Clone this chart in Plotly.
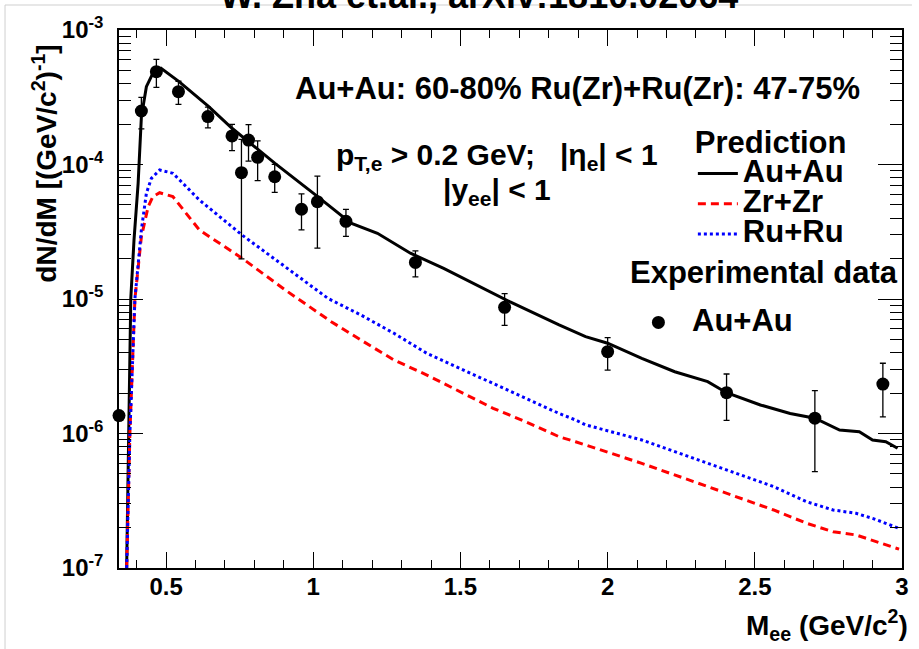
import plotly.graph_objects as go

# ---------------- data ----------------
# Measured Au+Au dielectron spectrum (60-80%)
mass_data = [0.340, 0.416, 0.467, 0.542, 0.642, 0.724, 0.756, 0.780, 0.811, 0.869,
             0.960, 1.014, 1.111, 1.347, 1.650, 2.000, 2.404, 2.704, 2.935]
dndm_data = [1.36e-6, 2.50e-4, 4.90e-4, 3.48e-4, 2.27e-4, 1.63e-4, 8.69e-5, 1.52e-4, 1.13e-4, 8.11e-5,
             4.65e-5, 5.29e-5, 3.78e-5, 1.87e-5, 8.67e-6, 4.06e-6, 2.01e-6, 1.30e-6, 2.33e-6]
dndm_err = [0.0, 6.6e-5, 1.15e-4, 6.8e-5, 4.0e-5, 3.6e-5, 6.7e-5, 4.6e-5, 3.7e-5, 1.9e-5,
            1.39e-5, 2.9e-5, 8.6e-6, 4.1e-6, 2.3e-6, 1.1e-6, 7.6e-7, 7.8e-7, 1.0e-6]

# Model prediction, Au+Au
mass_au = [0.366, 0.374, 0.380, 0.391, 0.405, 0.416, 0.433, 0.455, 0.483, 0.544,
           0.645, 0.724, 0.780, 0.870, 1.015, 1.128, 1.218, 1.330, 1.443, 1.555,
           1.667, 1.835, 1.925, 2.000, 2.116, 2.228, 2.340, 2.404, 2.519, 2.620,
           2.704, 2.788, 2.855, 2.900, 2.945, 2.985]
pred_au = [1.0e-7, 1.0e-6, 1.0e-5, 2.75e-5, 7.24e-5, 2.26e-4, 3.79e-4, 4.76e-4, 5.19e-4, 4.13e-4,
           2.69e-4, 1.86e-4, 1.48e-4, 1.02e-4, 5.77e-5, 3.66e-5, 3.08e-5, 2.19e-5, 1.69e-5, 1.27e-5,
           9.55e-6, 6.41e-6, 5.25e-6, 4.69e-6, 3.62e-6, 2.88e-6, 2.43e-6, 2.01e-6, 1.63e-6, 1.41e-6,
           1.30e-6, 1.06e-6, 1.03e-6, 8.95e-7, 8.69e-7, 7.76e-7]

# Model prediction, Zr+Zr
mass_zr = [0.366, 0.377, 0.394, 0.416, 0.439, 0.455, 0.478, 0.523, 0.613, 0.758,
           0.904, 1.061, 1.162, 1.274, 1.386, 1.498, 1.611, 1.723, 1.835, 1.891,
           2.116, 2.340, 2.564, 2.676, 2.766, 2.844, 2.900, 2.990]
pred_zr = [1.0e-7, 1.0e-6, 1.0e-5, 2.90e-5, 4.85e-5, 5.77e-5, 6.17e-5, 5.77e-5, 3.26e-5, 2.01e-5,
           1.17e-5, 6.78e-6, 4.95e-6, 3.52e-6, 2.72e-6, 2.05e-6, 1.54e-6, 1.22e-6, 9.46e-7, 8.69e-7,
           6.00e-7, 4.03e-7, 2.70e-7, 2.15e-7, 1.86e-7, 1.76e-7, 1.61e-7, 1.38e-7]

# Model prediction, Ru+Ru
mass_ru = [0.366, 0.377, 0.394, 0.411, 0.416, 0.433, 0.450, 0.478, 0.523, 0.613,
           0.758, 0.904, 1.050, 1.162, 1.274, 1.386, 1.498, 1.611, 1.723, 1.835,
           1.891, 1.925, 2.116, 2.340, 2.564, 2.676, 2.766, 2.844, 2.900, 2.990]
pred_ru = [1.0e-7, 1.0e-6, 1.0e-5, 2.75e-5, 3.26e-5, 6.11e-5, 7.89e-5, 9.10e-5, 8.61e-5, 5.45e-5,
           2.99e-5, 1.74e-5, 1.01e-5, 7.60e-6, 5.56e-6, 3.94e-6, 3.05e-6, 2.36e-6, 1.83e-6, 1.41e-6,
           1.26e-6, 1.16e-6, 8.95e-7, 6.00e-7, 4.03e-7, 3.11e-7, 2.70e-7, 2.55e-7, 2.34e-7, 1.97e-7]

x_tickvals = [0.5, 1, 1.5, 2, 2.5, 3]
x_ticktext = ["0.5", "1", "1.5", "2", "2.5", "3"]
y_tickvals = [1e-7, 1e-6, 1e-5, 1e-4, 1e-3]
y_ticktext = ["10<sup>-7</sup>", "10<sup>-6</sup>", "10<sup>-5</sup>", "10<sup>-4</sup>", "10<sup>-3</sup>"]

# ---------------- figure ----------------
FONT = "Liberation Sans, Arial, Helvetica, sans-serif"


def bold(size):
    return dict(family=FONT, size=size, color="black", weight="bold")


def big(label):
    return '<span style="font-size:31px">' + label + "</span>"


fig = go.Figure()

fig.add_trace(go.Scatter(
    x=mass_au, y=pred_au, mode="lines", name=big("Au+Au"), legend="legend",
    line=dict(color="black", width=3)))
fig.add_trace(go.Scatter(
    x=mass_zr, y=pred_zr, mode="lines", name=big("Zr+Zr"), legend="legend",
    line=dict(color="#ff0000", width=3, dash="8px,5px")))
fig.add_trace(go.Scatter(
    x=mass_ru, y=pred_ru, mode="lines", name=big("Ru+Ru"), legend="legend",
    line=dict(color="#0000ff", width=3, dash="3px,3px")))
fig.add_trace(go.Scatter(
    x=mass_data, y=dndm_data, mode="markers", name=big("\u00a0Au+Au"), legend="legend2",
    marker=dict(color="black", size=13),
    error_y=dict(type="data", array=dndm_err, color="black", thickness=1.3, width=3),
    cliponaxis=False))

axis_common = dict(
    showgrid=False, zeroline=False, showline=True, linecolor="black", linewidth=1.5,
    mirror="ticks", ticks="inside", tickcolor="black", tickwidth=1.3,
    tickfont=bold(24))

fig.update_xaxes(
    range=[0.34, 3.0], tickmode="array", tickvals=x_tickvals, ticktext=x_ticktext,
    ticklen=16, ticklabelstandoff=-4,
    minor=dict(ticks="inside", ticklen=8, dtick=0.1, tick0=0, tickcolor="black", tickwidth=1.3),
    **axis_common)

y_minor = [m * 10.0 ** e for e in range(-7, -3) for m in range(2, 10)]
fig.update_yaxes(
    type="log", range=[-7, -3], tickmode="array", tickvals=y_tickvals, ticktext=y_ticktext,
    ticklen=24, ticklabelstandoff=9,
    minor=dict(ticks="inside", ticklen=12, tickmode="array", tickvals=y_minor,
               tickcolor="black", tickwidth=1.3),
    **axis_common)

W, H = 919, 649
ML, MR, MT, MB = 119, 10, 30, 81
PW, PH = W - ML - MR, H - MT - MB


def px(xp):
    return (xp - ML) / PW


def py(yp):
    return 1 - (yp - MT) / PH


annotations = [
    dict(text="W. Zha et.al., arXiv:1810.02064", x=px(482), y=py(18), xanchor="center",
         yanchor="bottom", font=bold(36)),
    dict(text="dN/dM [(GeV/c<sup>2</sup>)<sup>-1</sup>]", x=px(44), y=py(164), textangle=-90,
         xanchor="center", yanchor="middle", font=bold(28)),
    dict(text="M<sub>ee</sub> (GeV/c<sup>2</sup>)", x=px(917), y=py(625), xanchor="right",
         yanchor="middle", font=bold(28)),
    dict(text="Au+Au: 60-80% Ru(Zr)+Ru(Zr): 47-75%", x=px(582), y=py(88), xanchor="center",
         yanchor="middle", font=bold(31)),
    dict(text="p<sub>T,e</sub> > 0.2 GeV;\u00a0\u00a0 |\u03b7<sub>e</sub>| < 1", x=px(500), y=py(156),
         xanchor="center", yanchor="middle", font=bold(30)),
    dict(text="|y<sub>ee</sub>| < 1", x=px(500), y=py(192), xanchor="center", yanchor="middle",
         font=bold(30)),
    dict(text="Experimental data", x=px(633), y=py(272), xanchor="left", yanchor="middle",
         font=bold(31)),
]
for a in annotations:
    a.update(xref="paper", yref="paper", showarrow=False)

shapes = [
    dict(type="line", xref="paper", yref="paper", x0=px(4), x1=px(4), y0=py(H), y1=py(5),
         line=dict(color="#cfcfcf", width=1)),
    dict(type="line", xref="paper", yref="paper", x0=px(4), x1=px(W), y0=py(5), y1=py(5),
         line=dict(color="#cfcfcf", width=1)),
]

fig.update_layout(
    width=W, height=H,
    margin=dict(l=ML, r=MR, t=MT, b=MB),
    paper_bgcolor="white", plot_bgcolor="white",
    font=dict(family=FONT, color="black"),
    showlegend=True,
    legend=dict(
        x=px(698), y=py(113), xanchor="left", yanchor="top",
        bgcolor="rgba(0,0,0,0)", font=bold(21),
        title=dict(text="Prediction", font=bold(31)),
        tracegroupgap=0, itemwidth=40),
    legend2=dict(
        x=px(638), y=py(301), xanchor="left", yanchor="top",
        bgcolor="rgba(0,0,0,0)", font=bold(23),
        itemwidth=40),
    annotations=annotations,
    shapes=shapes,
)

fig.write_html("out.html")
